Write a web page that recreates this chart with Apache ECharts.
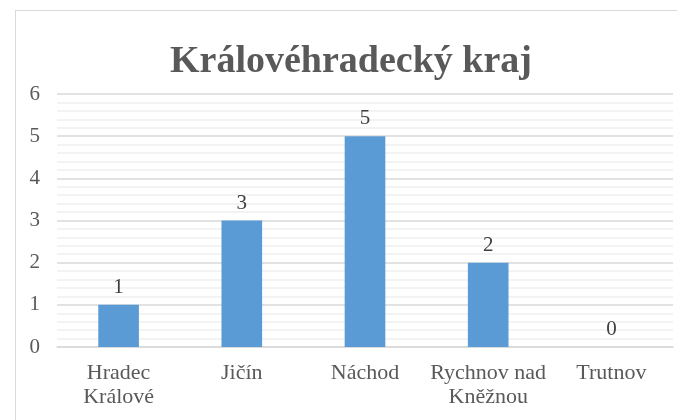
<!DOCTYPE html>
<html><head><meta charset="utf-8">
<script src="https://cdn.jsdelivr.net/npm/echarts@6/dist/echarts.min.js"></script>
<style>html,body{margin:0;padding:0;background:#fff}#c{width:677px;height:420px}
#frame{position:absolute;left:15px;top:10px;width:700px;height:450px;border:1.5px solid #d9d9d9;box-sizing:border-box;pointer-events:none}</style>
</head><body>
<div id="c"></div><div id="frame"></div>
<script>
const categories = ['Hradec\nKrálové', 'Jičín', 'Náchod', 'Rychnov nad\nKněžnou', 'Trutnov'];
const values = [1, 3, 5, 2, 0];
const yTicks = [0, 1, 2, 3, 4, 5, 6];
const font = '"Liberation Serif", "Times New Roman", serif';
const chart = echarts.init(document.getElementById('c'));
chart.setOption({
  animation: false,
  title: {
    text: 'Královéhradecký kraj', left: 346, textAlign: 'center', top: 38,
    textStyle: { fontFamily: font, fontSize: 38, fontWeight: 'bold', color: '#595959' }
  },
  grid: { left: 57, right: 4, top: 94, bottom: 73 },
  xAxis: {
    type: 'category', data: categories,
    axisLine: { lineStyle: { color: '#d9d9d9', width: 1.5 } },
    axisTick: { show: false },
    axisLabel: { fontFamily: font, fontSize: 22, color: '#595959', margin: 14, lineHeight: 24, interval: 0 }
  },
  yAxis: {
    type: 'value', min: yTicks[0], max: yTicks[yTicks.length - 1], interval: 1,
    axisLine: { show: false }, axisTick: { show: false },
    axisLabel: { fontFamily: font, fontSize: 21, color: '#595959', margin: 17 },
    splitLine: { lineStyle: { color: '#d9d9d9', width: 1.5 } },
    minorTick: { show: false, splitNumber: 5 },
    minorSplitLine: { show: true, lineStyle: { color: '#f0f0f0', width: 1.5 } }
  },
  series: [{
    type: 'bar', data: values, barWidth: '33%',
    itemStyle: { color: '#5B9BD5' },
    label: { show: true, position: 'top', distance: 7, fontFamily: font, fontSize: 21, color: '#404040' }
  }]
});
</script></body></html>
